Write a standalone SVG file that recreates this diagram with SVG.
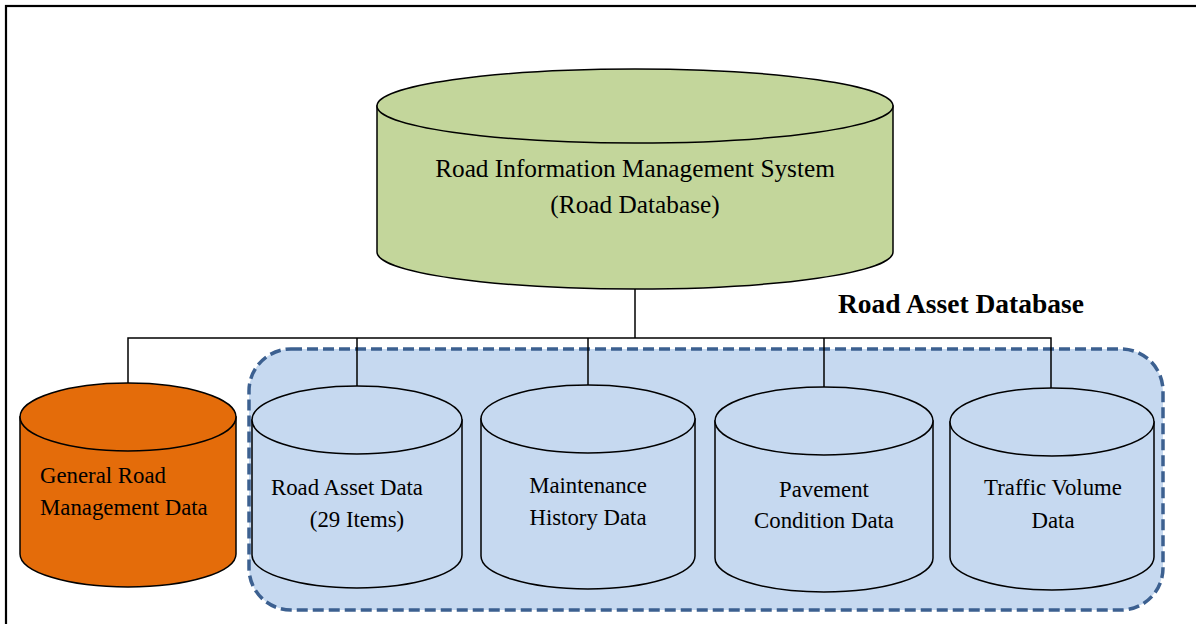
<svg xmlns="http://www.w3.org/2000/svg" width="1196" height="624" viewBox="0 0 1196 624">
  <style>
    .cyl { stroke: #000; stroke-width: 1.5; }
    .green { fill: #c3d69b; }
    .orange { fill: #e46c0a; }
    .blue { fill: #c6d9f0; }
    .lbl { font-family: "Liberation Serif", "Times New Roman", serif; fill: #000; }
    .wire { fill: none; stroke: #000; stroke-width: 1.5; }
  </style>

  <rect width="1196" height="624" fill="#fff"/>
  <!-- page frame -->
  <rect x="6" y="6" width="1210" height="640" fill="none" stroke="#000" stroke-width="2.2"/>

  <!-- asset database region -->
  <g id="asset-region">
    <rect x="249" y="349" width="914" height="261" rx="42" ry="42" fill="#c6d9f0" stroke="#3c6090" stroke-width="3.5" stroke-dasharray="11 5"/>
    <text class="lbl" x="961" y="313" font-size="27.5" font-weight="bold" text-anchor="middle">Road Asset Database</text>
  </g>

  <!-- connectors -->
  <g id="connectors">
    <path class="wire" d="M635 289 V338"/>
    <path class="wire" d="M128 383 V338 H1051 V388"/>
    <path class="wire" d="M357 338 V386"/>
    <path class="wire" d="M588 338 V385"/>
    <path class="wire" d="M824 338 V387"/>
  </g>

  <g id="rims">
    <path class="cyl green" d="M377 106 V252 A258 37 0 0 0 893 252 V106 Z"/>
    <ellipse class="cyl green" cx="635" cy="106" rx="258" ry="37"/>
    <text class="lbl" x="635" y="177" font-size="25.3" text-anchor="middle">Road Information Management System</text>
    <text class="lbl" x="635" y="213" font-size="25.3" text-anchor="middle">(Road Database)</text>
  </g>

  <g id="general-road">
    <path class="cyl orange" d="M20 417 V554 A108 33 0 0 0 236 554 V417 Z"/>
    <ellipse class="cyl orange" cx="128" cy="417" rx="108" ry="34"/>
    <text class="lbl" x="40" y="483" font-size="22.8">General Road</text>
    <text class="lbl" x="40" y="515" font-size="22.8">Management Data</text>
  </g>

  <g id="road-asset">
    <path class="cyl blue" d="M252 420 V555 A105 33 0 0 0 462 555 V420 Z"/>
    <ellipse class="cyl blue" cx="357" cy="420" rx="105" ry="34"/>
    <text class="lbl" x="347" y="495" font-size="22.8" text-anchor="middle">Road Asset Data</text>
    <text class="lbl" x="357" y="527" font-size="22.8" text-anchor="middle">(29 Items)</text>
  </g>

  <g id="maintenance">
    <path class="cyl blue" d="M481 419 V556 A107 33 0 0 0 695 556 V419 Z"/>
    <ellipse class="cyl blue" cx="588" cy="419" rx="107" ry="34"/>
    <text class="lbl" x="588" y="493" font-size="22.8" text-anchor="middle">Maintenance</text>
    <text class="lbl" x="588" y="525" font-size="22.8" text-anchor="middle">History Data</text>
  </g>

  <g id="pavement">
    <path class="cyl blue" d="M715 421 V558 A109 34 0 0 0 933 558 V421 Z"/>
    <ellipse class="cyl blue" cx="824" cy="421" rx="109" ry="34"/>
    <text class="lbl" x="824" y="497" font-size="22.8" text-anchor="middle">Pavement</text>
    <text class="lbl" x="824" y="528" font-size="22.8" text-anchor="middle">Condition Data</text>
  </g>

  <g id="traffic">
    <path class="cyl blue" d="M950 422 V557 A102 33 0 0 0 1154 557 V422 Z"/>
    <ellipse class="cyl blue" cx="1052" cy="422" rx="102" ry="34"/>
    <text class="lbl" x="1053" y="495" font-size="22.8" text-anchor="middle">Traffic Volume</text>
    <text class="lbl" x="1053" y="528" font-size="22.8" text-anchor="middle">Data</text>
  </g>
</svg>
